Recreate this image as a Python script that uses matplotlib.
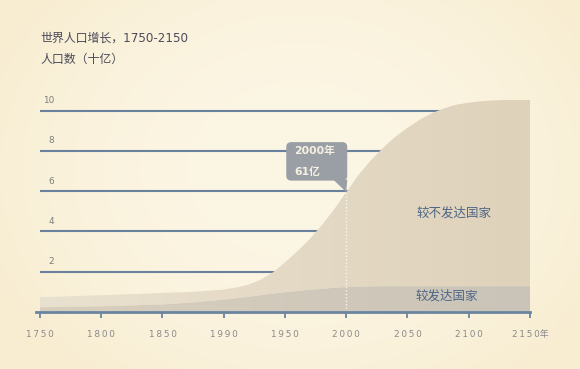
import numpy as np
import matplotlib
matplotlib.use('Agg')
import matplotlib.pyplot as plt
from matplotlib.patches import FancyBboxPatch, Polygon, PathPatch
from matplotlib.path import Path
from matplotlib.transforms import IdentityTransform

# ---------------- data ----------------
years = [1750, 1800, 1850, 1875, 1900, 1910, 1920, 1930, 1940, 1950, 1960, 1970,
         1980, 1990, 2000, 2010, 2020, 2030, 2040, 2050, 2060, 2070, 2080, 2090,
         2100, 2110, 2120, 2130, 2140, 2150]
total = [0.72, 0.82, 0.93, 0.99, 1.10, 1.20, 1.34, 1.58, 1.95, 2.45, 3.00, 3.60,
         4.30, 5.08, 5.95, 6.80, 7.52, 8.15, 8.70, 9.15, 9.55, 9.88, 10.12, 10.30,
         10.40, 10.47, 10.51, 10.53, 10.53, 10.53]
developed = [0.22, 0.27, 0.36, 0.46, 0.60, 0.67, 0.74, 0.82, 0.90, 0.97, 1.03, 1.09,
             1.14, 1.19, 1.23, 1.25, 1.26, 1.27, 1.27, 1.27, 1.27, 1.27, 1.27, 1.27,
             1.27, 1.27, 1.27, 1.27, 1.27, 1.27]
tick_years = [1750, 1800, 1850, 1900, 1950, 2000, 2050, 2100, 2150]
tick_labels = ['1750', '1800', '1850', '1990', '1950', '2000', '2050', '2100', '2150年']
grid_values = [2, 4, 6, 8, 10]
title_line1 = '世界人口增长，1750-2150'
title_line2 = '人口数（十亿）'
label_less = '较不发达国家'
label_more = '较发达国家'
callout_year = 2000
callout_lines = ['2000年', '61亿']

W, H = 580, 369
fig = plt.figure(figsize=(W / 100, H / 100), dpi=100)

# background radial gradient
bg = fig.add_axes([0, 0, 1, 1], zorder=-10)
yy, xx = np.mgrid[0:H, 0:W]
d = np.sqrt(((xx - 300) / 340.0) ** 2 + ((yy - 170) / 270.0) ** 2)
d = np.clip(d, 0, 1) ** 2.0
c0 = np.array([252, 246, 229]) / 255.0
c1 = np.array([248, 237, 209]) / 255.0
img = c0[None, None, :] + (c1 - c0)[None, None, :] * d[..., None]
bg.imshow(img, aspect='auto', extent=[0, W, H, 0])
bg.set_axis_off()

# main axes: 1750 at x=40px, 2150 at x=530px ; 0 at y=311.7px, 10 at y=110.7px
x0px = 36.3
ax = fig.add_axes([x0px / W, (H - 311.7) / H, (530 - x0px) / W, (12 * 20.1) / H])
ax.patch.set_alpha(0)

# gridlines (behind areas)
ax.hlines(grid_values, years[0], years[-1], colors='#6a819d', linewidth=1.5, zorder=1)

yrs = np.array(years, dtype=float)
tot = np.array(total)
dev = np.array(developed)


def grad_fill(top, bottom, cleft, cright, z):
    verts = list(zip(yrs, top)) + list(zip(yrs[::-1], bottom[::-1]))
    path = Path(verts + [verts[0]], closed=True)
    patch = PathPatch(path, facecolor='none', edgecolor='none')
    ax.add_patch(patch)
    g = np.linspace(0, 1, 256)
    cl = np.array(cleft) / 255.0
    cr = np.array(cright) / 255.0
    gimg = cl[None, :] + (cr - cl)[None, :] * g[:, None]
    gimg = np.tile(gimg[None, :, :], (2, 1, 1))
    im = ax.imshow(gimg, extent=[yrs[0], yrs[-1], 0, 11], aspect='auto',
                   zorder=z, interpolation='bilinear')
    im.set_clip_path(patch)


grad_fill(tot, dev, (233, 225, 207), (223, 210, 187), 2)
grad_fill(dev, np.zeros_like(dev), (216, 207, 190), (202, 196, 184), 3)

ax.set_xlim(1747, 2150)
ax.set_ylim(0, 12)

# axis styling
for s in ['top', 'right', 'left']:
    ax.spines[s].set_visible(False)
ax.spines['bottom'].set_color('#6b849f')
ax.spines['bottom'].set_linewidth(2)
ax.spines['bottom'].set_zorder(6)
ax.set_yticks([])
ax.set_xticks(tick_years)
ax.set_xticklabels(['\u2009'.join(list(t[:4])) + t[4:] for t in tick_labels],
                   family=['DejaVu Sans', 'Noto Sans CJK SC'])
ax.tick_params(axis='x', length=4, width=1.3, color='#6b849f', pad=9,
               labelsize=6.4, labelcolor='#8a8a8a')

# y labels
for v in grid_values:
    ax.text(1761.5, v + 0.5, str(v), ha='right', va='center', fontsize=6.4,
            color='#7c7c7c', family='DejaVu Sans')

# area labels
ax.text(2088, 4.93, label_less, ha='center', va='center', fontsize=9,
        color='#4d6485', family='Noto Sans CJK SC', zorder=5)
ax.text(2082, 0.78, label_more, ha='center', va='center', fontsize=9,
        color='#4d6485', family='Noto Sans CJK SC', zorder=5)

# dotted vertical line at callout year
cy = float(np.interp(callout_year, yrs, tot))
ax.plot([callout_year, callout_year], [0, cy], color='#faf6ee', linewidth=1,
        linestyle=(0, (1, 1.5)), zorder=4)

# callout box (pixel offsets from the tip)
tx, ty = ax.transData.transform((callout_year, cy))
box = FancyBboxPatch((tx - 60, ty + 11.5), 61, 38.5,
                     boxstyle='round,pad=0,rounding_size=5',
                     transform=IdentityTransform(), facecolor='#9a9fa5',
                     edgecolor='none', zorder=7)
fig.patches.append(box)
tri = Polygon([(tx - 13, ty + 12.5), (tx + 1, ty + 12.5), (tx, ty)],
              closed=True, transform=IdentityTransform(), facecolor='#9a9fa5',
              edgecolor='none', zorder=7)
fig.patches.append(tri)
fig.text((tx - 52) / W, (ty + 41.3) / H, callout_lines[0], ha='left', va='center',
         fontsize=7.8, fontweight='bold', color='#f5f0e2',
         family=['DejaVu Sans', 'Noto Sans CJK SC'], zorder=8)
fig.text((tx - 52) / W, (ty + 20.3) / H, callout_lines[1], ha='left', va='center',
         fontsize=7.8, fontweight='bold', color='#f5f0e2',
         family=['DejaVu Sans', 'Noto Sans CJK SC'], zorder=8)

# titles
fig.text(40 / W, 1 - 38.3 / H, title_line1, ha='left', va='center', fontsize=8.6,
         color='#4b4b5a', family=['DejaVu Sans', 'Noto Sans CJK SC'])
fig.text(40 / W, 1 - 59.3 / H, title_line2, ha='left', va='center', fontsize=8.6,
         color='#4b4b5a', family=['Noto Sans CJK SC', 'DejaVu Sans'])

fig.savefig('out.png', dpi=100)
